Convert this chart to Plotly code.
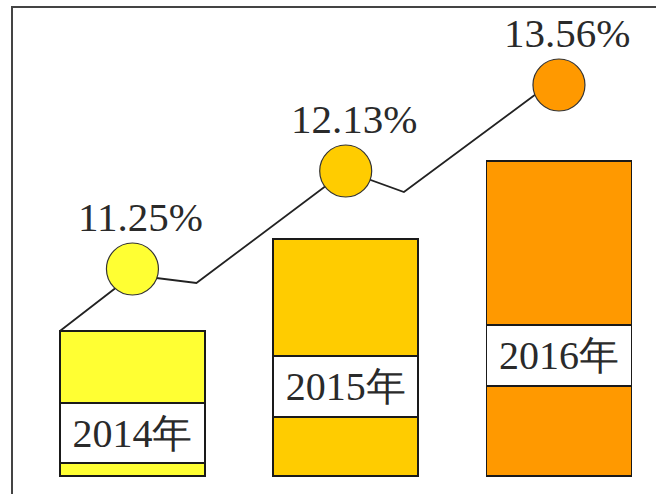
import plotly.graph_objects as go

# ---- data ----
years = ["2014年", "2015年", "2016年"]
rates = ["11.25%", "12.13%", "13.56%"]
bar_heights = [145, 237, 315]          # relative bar heights
label_band_low = [13, 59, 90]          # white label band (bottom edge)
label_band_high = [73, 120, 151]       # white label band (top edge)
circle_levels = [207, 305, 391]        # heights of the circle markers
line_x = [-0.34, 0, 0.30, 1, 1.273, 2]  # zig-zag growth line
line_y = [145, 201, 193, 305, 284, 399]
colors = ["#FFFF33", "#FFCC00", "#FF9900"]

x_idx = list(range(len(years)))
seg_bottom = label_band_low
seg_white = [h - l for h, l in zip(label_band_high, label_band_low)]
seg_top = [b - h for b, h in zip(bar_heights, label_band_high)]

FONT = "Liberation Serif"
bar_w = 0.68
edge = dict(color="#1a1a1a", width=1.6)

fig = go.Figure()
fig.add_trace(go.Bar(x=x_idx, y=seg_bottom, width=bar_w,
                     marker=dict(color=colors, line=edge), hoverinfo="skip"))
fig.add_trace(go.Bar(x=x_idx, y=seg_white, width=bar_w, text=years,
                     textposition="inside", insidetextanchor="middle",
                     textfont=dict(family=FONT, size=40, color="#2a2a2a"),
                     marker=dict(color="white", line=edge), hoverinfo="skip"))
fig.add_trace(go.Bar(x=x_idx, y=seg_top, width=bar_w,
                     marker=dict(color=colors, line=edge), hoverinfo="skip"))

fig.add_trace(go.Scatter(x=line_x, y=line_y, mode="lines",
                         line=dict(color="#222", width=1.8), hoverinfo="skip"))
fig.add_trace(go.Scatter(x=x_idx, y=circle_levels, mode="markers",
                         marker=dict(size=52, color=colors,
                                     line=dict(color="#333", width=1.2)),
                         hoverinfo="skip"))

for i, r in enumerate(rates):
    fig.add_annotation(x=x_idx[i], y=circle_levels[i], text=r, showarrow=False,
                       xshift=8, yshift=52,
                       font=dict(family=FONT, size=41, color="#2a2a2a"))

fig.add_shape(type="rect", xref="paper", yref="paper",
              x0=12 / 656, x1=1.05, y0=-0.05, y1=1 - 7 / 494,
              line=dict(color="#444", width=2), layer="above")

fig.update_layout(
    width=656, height=494, barmode="stack", showlegend=False,
    margin=dict(l=0, r=0, t=0, b=0),
    paper_bgcolor="white", plot_bgcolor="white",
    font=dict(family=FONT),
    xaxis=dict(range=[-0.621, 2.455], visible=False),
    yaxis=dict(range=[-18, 476], visible=False),
    uniformtext=dict(mode=False),
)
fig.write_html("out.html")
